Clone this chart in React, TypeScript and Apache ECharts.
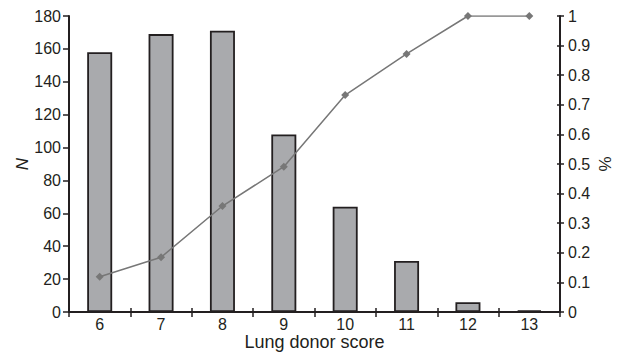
import React, { useEffect, useRef } from "react";
import * as echarts from "echarts";

const categories = ["6", "7", "8", "9", "10", "11", "12", "13"];
const counts = [158, 169, 171, 108, 64, 31, 6, 1];
const cumulative = [0.119, 0.185, 0.358, 0.491, 0.733, 0.872, 1, 1];
const leftTicks = { min: 0, max: 180, interval: 20 };
const rightTicks = { min: 0, max: 1, interval: 0.1 };

const FONT = "Liberation Sans";
const DARK = "#231f20";

export default function App() {
  const ref = useRef<HTMLDivElement>(null);
  useEffect(() => {
    if (!ref.current) return;
    const chart = echarts.init(ref.current, undefined, { renderer: "svg" });
    chart.setOption({
      animation: false,
      textStyle: { fontFamily: FONT },
      grid: { left: 69, right: 64, top: 16, bottom: 42, containLabel: false, outerBoundsMode: "none" },
      xAxis: [
        {
          type: "category",
          data: categories,
          position: "bottom",
          axisLine: { lineStyle: { color: DARK, width: 2 } },
          axisTick: { show: true, length: 5, lineStyle: { color: DARK, width: 1.5 } },
          axisLabel: { color: DARK, fontSize: 16, fontFamily: FONT, margin: 4 },
          name: "Lung donor score",
          nameLocation: "middle",
          nameGap: 21,
          nameMoveOverlap: false,
          nameTextStyle: { color: DARK, fontSize: 18, fontFamily: FONT, lineHeight: 18 },
        },
        {
          type: "category",
          data: categories,
          position: "bottom",
          axisLine: { show: false },
          axisTick: { show: true, inside: true, length: 4, lineStyle: { color: DARK, width: 1.5 } },
          axisLabel: { show: false },
        },
        {
          type: "category",
          data: categories,
          position: "top",
          axisLine: { lineStyle: { color: DARK, width: 1 } },
          axisTick: { show: false },
          axisLabel: { show: false },
        },
      ],
      yAxis: [
        {
          type: "value",
          ...leftTicks,
          position: "left",
          axisLine: { show: true, lineStyle: { color: DARK, width: 2 } },
          axisTick: { show: true, length: 6, lineStyle: { color: DARK, width: 1.5 } },
          axisLabel: { color: DARK, fontSize: 16, fontFamily: FONT, margin: 8 },
          splitLine: { show: false },
          name: "N",
          nameLocation: "middle",
          nameGap: 38,
          nameMoveOverlap: false,
          nameRotate: 90,
          nameTextStyle: { color: DARK, fontSize: 17, fontStyle: "italic", fontFamily: FONT, lineHeight: 17 },
        },
        {
          type: "value",
          ...rightTicks,
          position: "right",
          axisLine: { show: true, lineStyle: { color: DARK, width: 2 } },
          axisTick: { show: true, length: 4, lineStyle: { color: DARK, width: 1.5 } },
          axisLabel: { color: DARK, fontSize: 16, fontFamily: FONT, margin: 8 },
          splitLine: { show: false },
          name: "%",
          nameLocation: "middle",
          nameGap: 37,
          nameMoveOverlap: false,
          nameRotate: 90,
          nameTextStyle: { color: DARK, fontSize: 17, fontFamily: FONT, lineHeight: 17 },
        },
        {
          type: "value",
          ...rightTicks,
          position: "right",
          axisLine: { show: false },
          axisTick: { show: true, inside: true, length: 3, lineStyle: { color: DARK, width: 1.5 } },
          axisLabel: { show: false },
          splitLine: { show: false },
        },
      ],
      series: [
        {
          type: "bar",
          data: counts,
          xAxisIndex: 0,
          yAxisIndex: 0,
          barWidth: 25,
          itemStyle: { color: "#a9aaad", borderColor: DARK, borderWidth: 1.8 },
          z: 2,
        },
        {
          type: "line",
          data: cumulative,
          xAxisIndex: 0,
          yAxisIndex: 1,
          symbol: "diamond",
          symbolSize: 8,
          lineStyle: { color: "#777777", width: 1.5 },
          itemStyle: { color: "#777777" },
          z: 3,
        },
      ],
    });
    return () => chart.dispose();
  }, []);
  return <div ref={ref} style={{ width: 624, height: 354, position: "absolute", left: 0, top: 0 }} />;
}
